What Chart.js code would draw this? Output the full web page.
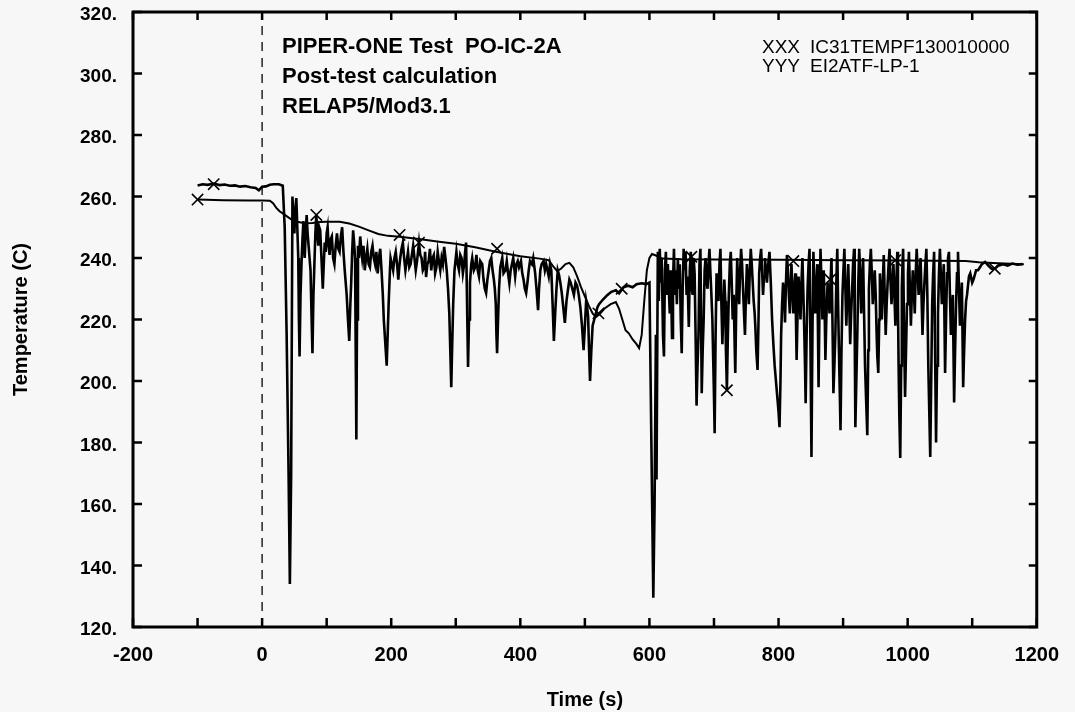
<!DOCTYPE html>
<html>

<head>
  <title>PIPER-ONE Test PO-IC-2A</title>
  <meta charset="UTF-8">
  <script src="https://cdn.jsdelivr.net/npm/chart.js@4.4.0/dist/chart.umd.min.js"></script>
  <style>
    body { margin: 0; background: #f7f7f7; overflow: hidden; }
    #wrap { width: 1075px; height: 712px; }
  </style>
</head>

<body>
  <div id="wrap"><canvas id="myChart"></canvas></div>
  <script>
    // measured test data EI2ATF-LP-1 : [time (s), temperature (C)]
    var expPoints = [
      [-100, 263.6], [-92, 264.0], [-84, 263.8], [-75, 264.2], [-66, 263.7], [-58, 263.9], [-50, 263.5],
      [-42, 263.6], [-34, 263.2], [-26, 263.4], [-18, 263.0], [-10, 262.8], [-5, 262.0], [0, 263.2],
      [6, 263.3], [12, 263.8], [18, 264.0], [26, 264.0], [32, 263.5],
      [35, 250], [38, 215], [41, 170], [43, 134], [45, 170],
      [47, 260], [48.5, 252], [50, 248], [51.5, 256], [53, 259.5], [54.5, 250], [56, 240], [57, 220], [58, 208],
      [59.5, 228], [61, 238], [62.5, 246], [64, 252], [65, 244], [66, 240], [67.5, 248], [69, 254], [70.5, 248],
      [72, 244], [73.5, 240], [75, 236], [76.5, 222], [78, 209], [79.5, 228], [81, 238], [82.5, 248], [84, 254],
      [85.5, 248], [87, 244], [88.5, 250], [90, 249], [91.5, 242], [93, 235], [94, 230], [95.5, 238], [97, 245],
      [98.5, 242], [100, 248], [101.5, 250], [103, 244], [104.5, 241], [106, 246], [108, 247], [110, 240],
      [112, 238], [114, 244], [116, 248], [118, 243], [120, 242], [122, 247], [124, 250], [126, 242], [128, 236],
      [129.5, 232], [131, 228], [133, 220], [135, 213], [136.5, 224], [138, 232], [139.5, 242], [141, 249],
      [142.5, 245], [144, 240], [145, 210], [146, 181], [147, 220], [148.5, 244], [150, 240], [152, 247],
      [153.5, 243], [155, 240], [157, 244], [159, 236], [161, 240], [163, 243], [165, 238], [167, 237], [169, 242],
      [171, 244], [173, 240], [175, 238], [177, 242], [179, 235], [181, 240], [183, 243], [185, 236], [187, 228],
      [188.5, 220], [190, 215], [191.5, 210], [193, 205], [194.5, 215], [196, 225], [198, 236], [199, 240],
      [201, 238], [203, 236], [205, 240], [207, 242], [209, 238], [211, 233], [212.5, 237], [214, 240], [216, 243],
      [218, 245], [220, 240], [222, 236], [224, 239], [226, 242], [228, 237], [230, 238], [232, 241], [234, 244],
      [236, 240], [238, 236], [240, 239], [243, 245], [245, 241], [247, 240], [249, 236], [251, 237], [252.5, 242],
      [254, 233.8], [256, 238], [258, 239], [260, 243], [262, 236], [264, 240], [266, 241], [268, 235], [270, 237],
      [272, 242], [274.5, 238], [276, 236], [278, 240], [280, 238], [282, 243.6], [284, 240], [286, 236],
      [288, 230], [290, 222], [291.5, 210], [293, 198], [294.5, 212], [296, 225], [298, 236], [301, 242],
      [303, 238], [305, 236], [307, 241], [309, 240], [311, 235], [313, 238], [314.5, 242], [316, 245],
      [317.5, 225], [319, 204.6], [320.5, 220], [322, 232], [324, 238], [325.5, 240], [328, 236], [330, 237],
      [332, 241], [334, 236], [336, 234], [338, 239], [341, 238], [343, 233], [345, 230], [347, 228.6],
      [349, 233], [351, 236], [353, 239], [355, 240], [357, 236], [359, 233], [360.5, 230], [362, 225],
      [363, 215], [364, 209], [365.5, 220], [367, 230], [369, 237], [372, 240], [374, 235], [377, 236],
      [379, 239], [381, 235], [383, 231.8], [385, 236], [387, 238], [389, 240], [392, 234], [394, 238],
      [396, 239], [398, 237], [401, 239], [403, 235], [405, 233], [407, 230], [409, 228.6], [411, 232],
      [413, 236], [415, 239], [418, 238], [420, 240], [423, 235], [425, 230], [427.5, 223], [429, 230],
      [431, 236], [433, 238], [436, 239], [438, 236], [440, 238], [442, 236], [444, 234], [446, 238],
      [448, 236], [450, 225], [452, 213], [454, 222], [456, 230], [458, 236], [460, 234.5], [462, 232],
      [464, 229], [466.5, 224], [469, 218.9], [471.5, 226], [474, 230], [476, 233], [478, 232], [480.5, 230],
      [483, 228], [485.5, 232], [488, 231], [490.5, 228], [493, 224], [495.5, 218], [498, 210], [500, 218],
      [502, 226], [503.5, 224], [505, 221], [506.5, 210], [508, 200], [510, 210], [512, 218], [514.5, 220],
      [517, 222], [519.5, 224], [522, 225], [528, 226.5], [535, 228], [541, 229], [548, 229.5], [553, 228.5],
      [560, 230.5], [567, 231], [574, 230.5], [580, 231.5], [588, 231.8], [595, 231.5], [600, 232],
      [603, 180], [606, 129.5], [608, 160], [610, 215], [611, 168], [613, 242],
      [614.5, 226], [616, 243], [617.5, 232], [619, 240], [621, 215], [622.5, 208], [624, 236], [625.5, 242],
      [627, 228], [628.5, 238], [630, 230], [631.5, 222], [633, 236], [635, 214], [636.5, 232], [638, 243],
      [639.5, 228], [641, 236], [642.5, 225], [644, 240], [645.5, 230], [647, 238], [648.5, 220], [650, 209],
      [651.5, 230], [653, 243], [654.5, 236], [656, 242], [657.5, 228], [659, 234], [661, 217.6], [662.5, 236],
      [664, 242], [665.5, 230], [667, 228], [668.5, 240], [670, 235], [671.5, 215], [673, 192], [674.5, 205],
      [676, 215], [677.5, 238], [679, 243], [680, 220], [681, 196], [682.5, 210], [684, 220], [685.5, 236],
      [687, 240], [688.5, 232], [690, 230], [691.5, 238], [693, 243], [694.5, 235], [696, 228], [697.5, 220],
      [699, 205], [700, 195], [701, 183], [702.5, 215], [704, 235], [705.5, 230], [707, 226], [708.5, 238],
      [710, 243], [711.5, 225], [713, 212], [714.5, 222], [716, 233], [717.5, 226], [718.5, 210], [720, 197],
      [721.5, 215], [723, 228], [724.5, 238], [726, 242], [727.5, 232], [729, 220], [730.5, 228], [732, 212],
      [733, 202.6], [734.5, 225], [736, 240], [737.5, 230], [739, 225], [740.5, 236], [742, 243], [743.5, 238],
      [745, 230], [746.5, 222], [748, 215], [749.5, 228], [751, 238], [752.5, 232], [754, 225], [755.5, 236],
      [757, 243], [758.5, 238], [760, 232], [761.5, 226], [763, 222], [764, 218], [765.5, 210], [767.5, 203.6],
      [769, 220], [770, 235], [771.5, 240], [773, 243], [774.5, 236], [776, 228], [777.5, 234], [779, 240],
      [780.5, 236], [782, 232], [784, 238], [786, 242], [788, 232], [790, 220], [792, 212], [794, 205],
      [796, 200], [798, 195], [800, 190], [801.5, 185], [803, 200], [804, 215], [805.5, 225], [807, 232],
      [808.5, 228], [810, 219], [811.5, 232], [813, 241], [814.5, 236], [816, 228], [817.5, 222], [819, 232],
      [820, 238], [821.5, 230], [823, 222], [824.5, 230], [826, 235], [827, 220], [828, 206.8], [829.5, 222],
      [831, 234], [832.5, 228], [834, 220], [835.5, 232], [837, 240], [838.5, 228], [840, 215], [841, 205],
      [842, 192.8], [843.5, 215], [845, 230], [846.5, 238], [848, 243], [849.5, 210], [851, 175.3], [852.5, 215],
      [854, 242], [855.5, 232], [857, 222], [858.5, 230], [860, 238], [861, 218], [862, 198], [863.5, 225],
      [865, 243], [866.5, 232], [868, 220], [869, 228], [870, 236], [871.5, 222], [872.6, 206.8], [874, 220],
      [876, 232], [877.5, 228], [879, 222], [880.5, 232], [882, 240], [883.5, 220], [885, 196], [886.5, 205],
      [888, 215], [889.5, 232], [891, 243], [892.5, 222], [894, 205], [895, 195], [896, 184], [897.5, 210],
      [899, 228], [900.5, 236], [902, 243], [903.5, 230], [905, 218], [906.5, 228], [908, 238], [909.5, 225],
      [911, 212], [912.5, 222], [914, 230], [915.5, 238], [917, 243], [918, 215], [919, 185], [920.5, 200],
      [922, 215], [923.5, 232], [925, 243], [926.5, 235], [928, 222], [929.5, 232], [931, 240], [932.5, 222],
      [934, 205], [935.5, 195], [937.5, 182.4], [939, 210], [940, 230], [941.5, 238], [943, 243], [944.5, 235],
      [946, 225], [947.5, 230], [949, 236], [950.5, 228], [952, 215], [953, 208], [954.5, 202.6], [956, 220],
      [957, 235], [958.5, 228], [960, 220], [961.5, 232], [963, 241], [964.5, 228], [966, 215], [967.5, 225],
      [969, 232], [970.5, 238], [972, 243], [973.5, 232], [975, 225], [976.5, 232], [978, 238], [979.5, 228],
      [981, 218], [982.5, 232], [984, 242], [985, 225], [986, 205], [987, 190], [988.5, 175], [990, 205],
      [991, 230], [992, 238], [993, 243], [994.5, 215], [996, 194.8], [997.5, 210], [999, 225], [1000.5, 235],
      [1002, 242], [1003.5, 230], [1005, 218], [1006.5, 228], [1008, 236], [1009.5, 230], [1011, 222],
      [1012.5, 235], [1014, 243], [1015.5, 236], [1017, 228], [1018.5, 234], [1020, 240], [1021.5, 228],
      [1023, 215], [1024.5, 225], [1026, 232], [1027.5, 238], [1029, 243], [1030.5, 228], [1032, 205],
      [1033.5, 190], [1035, 175.3], [1036.5, 200], [1038, 225], [1039.5, 235], [1041, 242], [1042.5, 210],
      [1044, 180], [1045.5, 205], [1047, 222], [1048.5, 235], [1050, 243], [1051.5, 234], [1053, 225],
      [1054.5, 232], [1056, 238], [1057, 220], [1058, 202.6], [1059.5, 220], [1061, 235], [1062.5, 240],
      [1064, 242], [1065.5, 228], [1067, 215], [1068.5, 222], [1070, 228], [1071, 210], [1072, 193],
      [1073.5, 210], [1075, 225], [1076.5, 235], [1078, 242], [1079.5, 230], [1081, 218], [1082.5, 225],
      [1084, 232], [1085, 215], [1086, 198], [1087.5, 210], [1089, 220], [1090.5, 226], [1092, 228],
      [1095, 234], [1097, 235], [1100, 232], [1102, 233], [1106, 236], [1109, 236], [1112, 237], [1115, 238],
      [1120, 238.7], [1125, 237.5], [1130, 236.5], [1135, 236.5], [1140, 237.5], [1148, 238], [1155, 237.5],
      [1162, 238.2], [1170, 237.8], [1178, 238]
    ];

    // RELAP5 calculation IC31TEMPF130010000 : [time (s), temperature (C)]
    var calcPoints = [
      [-100, 259], [-60, 258.8], [-20, 258.7], [0, 258.7], [12, 258.6], [17, 257.8], [22, 256.3], [27, 255.2],
      [32, 254.5], [38, 253.6], [45, 252.6], [55, 251.8], [65, 251.3], [78, 251.4], [90, 251.7], [100, 251.8],
      [120, 251.8], [135, 251.2], [150, 250.2], [165, 249], [180, 247.8], [195, 247.2], [213, 246.9],
      [243, 246.2], [274, 245.3], [300, 244.6], [330, 243.5], [362, 242], [400, 240.6], [430, 239.8],
      [444, 239.3], [450, 237.5], [457, 235.8], [463, 236.5], [470, 238], [476, 238.4], [482, 237], [488, 234],
      [494, 230.5], [500, 227.5], [506, 224.5], [512, 222], [517, 220.8], [523, 221.8], [530, 223.5],
      [540, 225], [548, 225.7], [553, 223.5], [558, 220], [563, 216.5], [568, 215.5], [574, 213.5], [580, 212],
      [584, 210.7], [588, 215], [592, 226], [596, 236], [600, 240], [604, 241.3], [610, 240.8], [620, 239.8],
      [650, 239.6], [700, 239.5], [800, 239.4], [900, 239.3], [1000, 239.2], [1090, 239], [1110, 238.6],
      [1140, 238.3], [1180, 238]
    ];

    // curve symbols as placed on the plot
    var calcMarks = [[-100, 259], [213, 247.5], [364, 243], [521, 222], [665, 240.4], [823, 239], [981, 239.3], [1135, 236.5]];
    var expMarks = [[-75, 264], [84, 254], [243, 245], [557, 230], [720, 197], [880, 233]];

    var xTickValues = [-200, -100, 0, 100, 200, 300, 400, 500, 600, 700, 800, 900, 1000, 1100, 1200];
    var xLabelValues = [-200, 0, 200, 400, 600, 800, 1000, 1200];
    var yTickValues = [120, 140, 160, 180, 200, 220, 240, 260, 280, 300, 320];
    var zeroTime = 0;

    var noteLines = ['PIPER-ONE Test  PO-IC-2A', 'Post-test calculation', 'RELAP5/Mod3.1'];
    var legendCodes = ['XXX', 'YYY'];
    var legendNames = ['IC31TEMPF130010000', 'EI2ATF-LP-1'];

    function toPoints(pairs) {
      return pairs.map(function (p) { return { x: p[0], y: p[1] }; });
    }

    var fontName = '"Liberation Sans", Arial, Helvetica, sans-serif';

    // box, inward ticks and the text blocks
    var framePlugin = {
      id: 'frame',
      afterDraw: function (chart) {
        var ctx = chart.ctx;
        var a = chart.chartArea;
        var xs = chart.scales.x;
        var ys = chart.scales.y;
        ctx.save();
        ctx.strokeStyle = '#000';
        ctx.lineWidth = 2.5;
        ctx.beginPath();
        xTickValues.forEach(function (v) {
          var p = xs.getPixelForValue(v);
          ctx.moveTo(p, a.bottom); ctx.lineTo(p, a.bottom - 9);
          ctx.moveTo(p, a.top); ctx.lineTo(p, a.top + 8);
        });
        yTickValues.forEach(function (v) {
          var p = ys.getPixelForValue(v);
          ctx.moveTo(a.left, p); ctx.lineTo(a.left + 9, p);
          ctx.moveTo(a.right, p); ctx.lineTo(a.right - 8, p);
        });
        ctx.stroke();
        ctx.lineWidth = 3;
        ctx.strokeRect(a.left, a.top, a.right - a.left, a.bottom - a.top);

        ctx.fillStyle = '#000';
        ctx.textBaseline = 'middle';
        ctx.textAlign = 'left';
        ctx.font = 'bold 22px ' + fontName;
        noteLines.forEach(function (t, i) { ctx.fillText(t, 282, 47 + i * 30); });
        ctx.font = '19px ' + fontName;
        legendCodes.forEach(function (c, i) {
          ctx.fillText(c, 762, 48 + i * 19);
          ctx.fillText(legendNames[i], 810, 48 + i * 19);
        });
        ctx.restore();
      }
    };

    var ctx = document.getElementById('myChart').getContext('2d');
    var chart = new Chart(ctx, {
      type: 'scatter',
      data: {
        datasets: [{
          data: [{ x: zeroTime, y: yTickValues[0] }, { x: zeroTime, y: yTickValues[yTickValues.length - 1] }],
          showLine: true,
          borderColor: '#000',
          borderWidth: 1.3,
          borderDash: [9, 7],
          pointRadius: 0
        }, {
          label: 'EI2ATF-LP-1',
          data: toPoints(expPoints),
          showLine: true,
          borderColor: '#000',
          borderWidth: 2.6,
          pointRadius: 0,
          tension: 0
        }, {
          label: 'IC31TEMPF130010000',
          data: toPoints(calcPoints),
          showLine: true,
          borderColor: '#000',
          borderWidth: 2,
          pointRadius: 0,
          tension: 0
        }, {
          data: toPoints(calcMarks),
          showLine: false,
          pointStyle: 'crossRot',
          pointRadius: 8,
          borderColor: '#000',
          borderWidth: 1.6
        }, {
          data: toPoints(expMarks),
          showLine: false,
          pointStyle: 'crossRot',
          pointRadius: 8,
          borderColor: '#000',
          borderWidth: 1.6
        }]
      },
      options: {
        responsive: true,
        maintainAspectRatio: false,
        animation: false,
        layout: { padding: { top: 12, right: 38, left: 0, bottom: 0 } },
        plugins: {
          legend: { display: false },
          tooltip: { enabled: false }
        },
        scales: {
          x: {
            type: 'linear',
            min: xTickValues[0],
            max: xTickValues[xTickValues.length - 1],
            afterBuildTicks: function (s) { s.ticks = xTickValues.map(function (v) { return { value: v }; }); },
            afterFit: function (s) { s.height = 85; },
            grid: { display: false, drawTicks: false },
            border: { display: false },
            ticks: {
              autoSkip: false,
              maxRotation: 0,
              padding: 16,
              color: '#000',
              font: { family: fontName, size: 20, weight: 'bold' },
              callback: function (v) { return xLabelValues.indexOf(v) >= 0 ? String(v) : ''; }
            },
            title: {
              display: true,
              text: 'Time (s)',
              color: '#000',
              padding: { top: 6, bottom: 0 },
              font: { family: fontName, size: 20, weight: 'bold' }
            }
          },
          y: {
            min: yTickValues[0],
            max: yTickValues[yTickValues.length - 1],
            afterBuildTicks: function (s) { s.ticks = yTickValues.map(function (v) { return { value: v }; }); },
            afterFit: function (s) { s.width = 133; s.paddingTop = 0; s.paddingBottom = 0; },
            grid: { display: false, drawTicks: false },
            border: { display: false },
            ticks: {
              autoSkip: false,
              padding: 16,
              labelOffset: 3,
              color: '#000',
              font: { family: fontName, size: 19, weight: 'bold' },
              callback: function (v) { return v + '.'; }
            },
            title: {
              display: true,
              text: 'Temperature (C)',
              color: '#000',
              padding: { top: 9, bottom: 0 },
              font: { family: fontName, size: 20, weight: 'bold' }
            }
          }
        }
      },
      plugins: [framePlugin]
    });
  </script>
</body>

</html>
